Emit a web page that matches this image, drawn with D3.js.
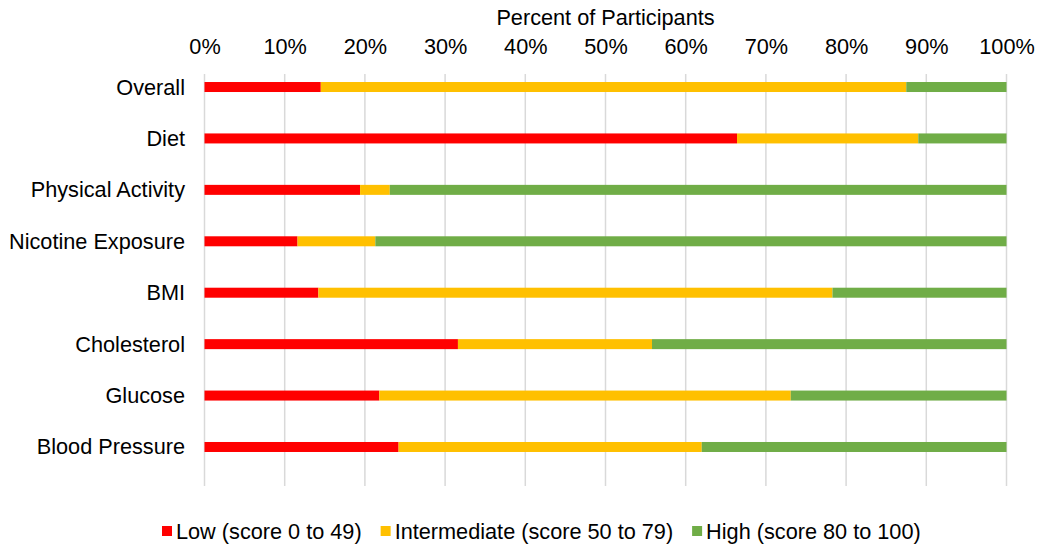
<!DOCTYPE html>
<html>
<head>
<meta charset="utf-8">
<script src="https://cdn.jsdelivr.net/npm/d3@7"></script>
<style>
  html, body { margin: 0; padding: 0; background: #fff; }
  svg { display: block; font-family: "Liberation Sans", Arial, Helvetica, sans-serif; }
</style>
</head>
<body>
<svg id="chart" width="1039" height="546"></svg>
<script>
// Cardiovascular health metrics: share of participants in each score band
const categories = ["Overall", "Diet", "Physical Activity", "Nicotine Exposure", "BMI", "Cholesterol", "Glucose", "Blood Pressure"];
const lowValues          = [14.5, 66.4, 19.4, 11.6, 14.2, 31.6, 21.8, 24.2];
const intermediateValues = [73.0, 22.6,  3.7,  9.7, 64.1, 24.2, 51.3, 37.8];
const highValues         = [12.5, 11.0, 76.9, 78.7, 21.7, 44.2, 26.9, 38.0];
const seriesNames = ["Low (score 0 to 49)", "Intermediate (score 50 to 79)", "High (score 80 to 100)"];
const seriesColors = ["#FF0000", "#FFC000", "#70AD47"];
const tickValues = [0, 10, 20, 30, 40, 50, 60, 70, 80, 90, 100];

const svg = d3.select("#chart");
const fontSize = 21.7;

const x = d3.scaleLinear().domain([0, 100]).range([204.5, 1006.5]);
const y = d3.scaleBand().domain(categories).range([61.3, 472.7]);
const gridTop = 74, gridBottom = 486;
const barH = 10;

// Stack the three bands for each metric
const rows = categories.map((c, i) => ({ cat: c, low: lowValues[i], intermediate: intermediateValues[i], high: highValues[i] }));
const stack = d3.stack().keys(["low", "intermediate", "high"]);
const stacked = stack(rows);

// Vertical gridlines
svg.append("g").selectAll("line").data(tickValues).join("line")
  .attr("x1", d => x(d)).attr("x2", d => x(d))
  .attr("y1", gridTop).attr("y2", gridBottom)
  .attr("stroke", "#D9D9D9").attr("stroke-width", 1.5);

// Top axis tick labels
const axis = d3.axisTop(x).tickValues(tickValues).tickFormat(d => d + "%").tickSize(0).tickPadding(0);
const axisG = svg.append("g").attr("transform", "translate(0,54)").call(axis);
axisG.select(".domain").remove();
axisG.selectAll("text").attr("font-size", fontSize).attr("fill", "#000")
  .attr("font-family", "Liberation Sans, Arial, sans-serif").attr("dy", 0);

// Axis title
svg.append("text").attr("x", (x(0) + x(100)) / 2).attr("y", 25)
  .attr("text-anchor", "middle").attr("font-size", fontSize).attr("fill", "#000")
  .text("Percent of Participants");

// Category labels
svg.append("g").selectAll("text").data(categories).join("text")
  .attr("x", 185).attr("y", d => y(d) + y.bandwidth() / 2 + 7.5)
  .attr("text-anchor", "end").attr("font-size", fontSize).attr("fill", "#000")
  .text(d => d);

// Stacked bars
svg.append("g").selectAll("g").data(stacked).join("g")
  .attr("fill", (d, i) => seriesColors[i])
  .selectAll("rect").data(d => d).join("rect")
  .attr("x", d => x(d[0]))
  .attr("width", d => x(d[1]) - x(d[0]))
  .attr("y", d => y(d.data.cat) + y.bandwidth() / 2 - barH / 2)
  .attr("height", barH);

// Legend
const legend = svg.append("g");
let lx = 162;
const ly = 531;
seriesNames.forEach((name, i) => {
  legend.append("rect").attr("x", lx).attr("y", ly - 5).attr("width", 10).attr("height", 10)
    .attr("fill", seriesColors[i]);
  const t = legend.append("text").attr("x", lx + 14).attr("y", ly + 7.5)
    .attr("font-size", fontSize).attr("fill", "#000").text(name);
  lx += 14 + t.node().getComputedTextLength() + 19;
});
</script>
</body>
</html>
